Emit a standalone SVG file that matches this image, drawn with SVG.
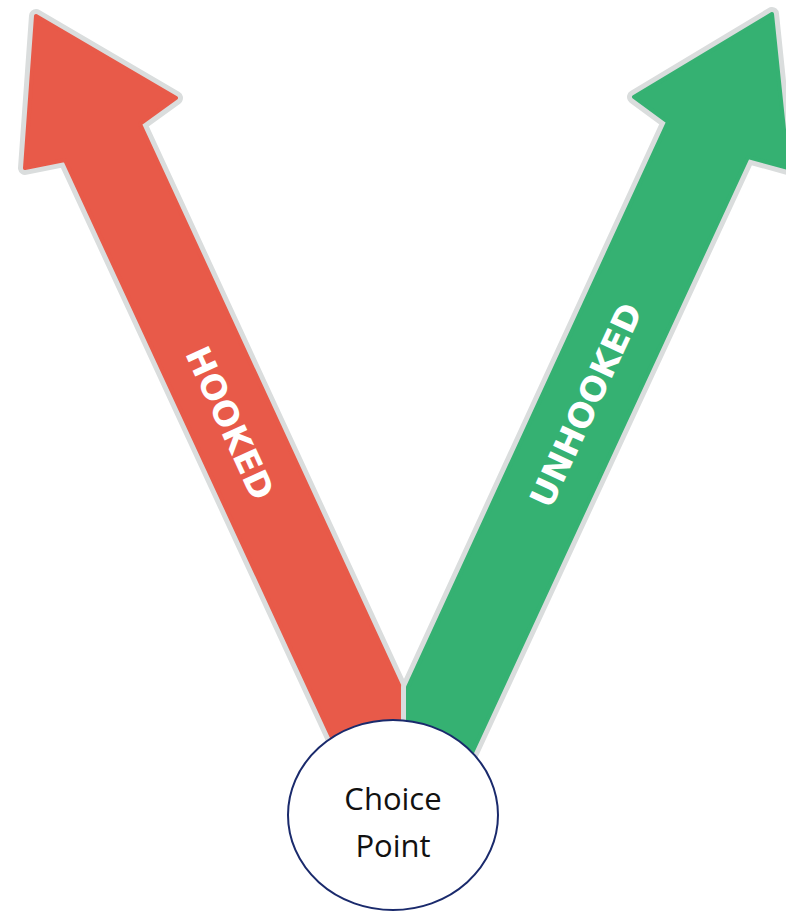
<svg xmlns="http://www.w3.org/2000/svg" width="786" height="912" viewBox="0 0 786 912">
<style>
.border{fill:#dadddd;stroke:#dadddd;stroke-width:14;stroke-linejoin:round}
.red{fill:#e85a49;stroke:#e85a49;stroke-width:4;stroke-linejoin:round}
.green{fill:#35b172;stroke:#35b172;stroke-width:4;stroke-linejoin:round}
.lbl{font-family:"DejaVu Sans",sans-serif;font-weight:bold;font-size:34px;fill:#ffffff;text-anchor:middle;dominant-baseline:central}
.cp{font-family:"Open Sans","Noto Sans",sans-serif;font-size:31px;fill:#111111;text-anchor:middle}
</style>
<rect width="786" height="912" fill="#ffffff"/>
<g id="connectors">
  <g id="hooked-arrow">
    <polygon class="border" points="36,16 176,98 140,124 400,687 400,770 347,770 65,160 25,168"/>
    <polygon class="red" points="36,16 176,98 140,124 400,687 400,770 347,770 65,160 25,168"/>
    <text class="lbl" transform="translate(230,423) rotate(65.3)">HOOKED</text>
  </g>
  <g id="unhooked-arrow">
    <polygon class="border" points="772,14 634,97 668,122 408,687 408,770 464,770 748,157 788,168"/>
    <polygon class="green" points="772,14 634,97 668,122 408,687 408,770 464,770 748,157 788,168"/>
    <text class="lbl" transform="translate(586,405) rotate(-65.1)">UNHOOKED</text>
  </g>
</g>
<g id="choice-point">
  <ellipse cx="393" cy="815" rx="105" ry="95" fill="#ffffff" stroke="#1a2a6c" stroke-width="2"/>
  <text class="cp" x="393" y="810">Choice</text>
  <text class="cp" x="393" y="857">Point</text>
</g>
</svg>
